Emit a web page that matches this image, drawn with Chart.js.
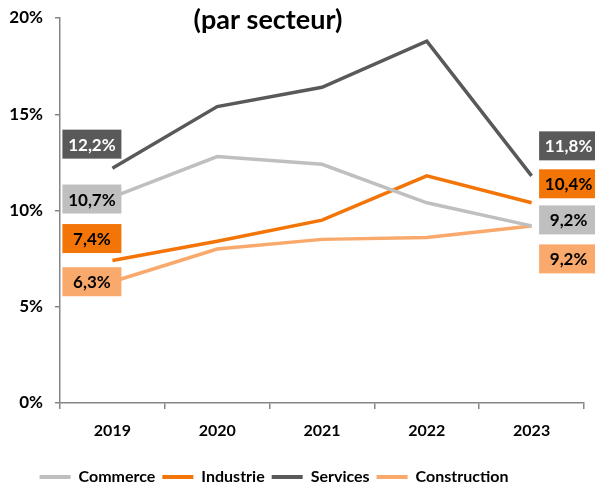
<!DOCTYPE html>
<html><head><meta charset="utf-8">
<script src="https://cdn.jsdelivr.net/npm/chart.js@4.4.0/dist/chart.umd.min.js"></script>
<style>html,body{margin:0;padding:0;background:#fff}</style>
</head><body>
<canvas id="c" width="595" height="487"></canvas>
<script>
const categories = ['2019', '2020', '2021', '2022', '2023'];
const seriesNames = ['Commerce', 'Industrie', 'Services', 'Construction'];
const commerce = [10.7, 12.8, 12.4, 10.4, 9.2];
const industrie = [7.4, 8.4, 9.5, 11.8, 10.4];
const services = [12.2, 15.4, 16.4, 18.8, 11.8];
const construction = [6.3, 8.0, 8.5, 8.6, 9.2];
const yTickValues = [0, 5, 10, 15, 20];
const titleText = '(par secteur)';

const colors = ['#BFBFBF', '#F37508', '#595959', '#FAA96C'];
const labelText = ['#000000', '#000000', '#FFFFFF', '#000000'];
// pixel offsets of the end labels relative to their points [dx, dy]
const firstOff = [[-20.5, 2], [-20.5, -22], [-20.5, -24], [-20.5, 0]];
const lastOff = [[37, -6], [37, -19], [37, -30], [37, 33]];

const FONT = 'Lato, "Open Sans", sans-serif';

const fmt = v => v.toFixed(1).replace('.', ',') + '%';

const endLabels = {
  id: 'endLabels',
  afterDatasetsDraw(chart) {
    const ctx = chart.ctx;
    ctx.save();
    ctx.font = '700 17px ' + FONT;
    ctx.textAlign = 'center';
    ctx.textBaseline = 'middle';
    chart.data.datasets.forEach((ds, i) => {
      const pts = chart.getDatasetMeta(i).data;
      [[0, firstOff[i]], [pts.length - 1, lastOff[i]]].forEach(([k, off]) => {
        const p = pts[k];
        const cx = p.x + off[0], cy = p.y + off[1];
        const w = 59, h = 29;
        ctx.fillStyle = colors[i];
        ctx.fillRect(cx - w / 2, cy - h / 2, w, h);
        ctx.fillStyle = labelText[i];
        ctx.fillText(fmt(ds.data[k]), cx, cy + 1);
      });
    });
    ctx.restore();
  }
};

const titlePlugin = {
  id: 'titleText',
  afterDraw(chart) {
    const ctx = chart.ctx;
    ctx.save();
    ctx.font = '700 27px ' + FONT;
    ctx.fillStyle = '#000';
    ctx.textAlign = 'center';
    ctx.textBaseline = 'middle';
    ctx.fillText(titleText, 268, 20);
    ctx.restore();
  }
};

const legendShift = {
  id: 'legendShift',
  afterLayout(chart) {
    chart.legend.left -= 18;
    chart.legend.right -= 18;
    chart.legend.top += 8;
    chart.legend.bottom += 8;
  }
};

const seriesData = [commerce, industrie, services, construction];

new Chart(document.getElementById('c'), {
  type: 'line',
  data: {
    labels: categories,
    datasets: seriesNames.map((n, i) => ({
      label: n,
      data: seriesData[i],
      borderColor: colors[i],
      backgroundColor: colors[i],
      borderWidth: 3.5,
      pointRadius: 0,
      tension: 0,
      fill: false
    }))
  },
  options: {
    responsive: false,
    devicePixelRatio: 1,
    animation: false,
    layout: { padding: { top: 18, right: 11, left: 0, bottom: 0 } },
    plugins: {
      title: { display: false },
      tooltip: { enabled: false },
      legend: {
        position: 'bottom',
        labels: {
          boxWidth: 31,
          boxHeight: 4,
          padding: 7,
          color: '#000',
          font: { family: FONT, size: 16, weight: '700' },
          generateLabels(chart) {
            const items = Chart.defaults.plugins.legend.labels.generateLabels(chart);
            items.forEach(it => { it.lineWidth = 0; });
            return items;
          }
        }
      }
    },
    scales: {
      x: {
        offset: true,
        afterFit(s) { s.height = 51; s.paddingLeft = 0; s.paddingRight = 0; },
        border: { color: '#868686', width: 1.5 },
        grid: { display: true, drawOnChartArea: false, offset: true, tickLength: 6, color: '#868686', lineWidth: 1.5 },
        ticks: { color: '#000', padding: 12, font: { family: FONT, size: 16, weight: '700' } }
      },
      y: {
        min: 0, max: 20,
        afterFit(s) { s.width = 60; s.paddingTop = 0; s.paddingBottom = 0; },
        afterBuildTicks(s) { s.ticks = yTickValues.map(v => ({ value: v })); },
        border: { color: '#868686', width: 1.5 },
        grid: { display: true, drawOnChartArea: false, tickLength: 5, color: '#868686', lineWidth: 1.5 },
        ticks: { color: '#000', padding: 12, font: { family: FONT, size: 17, weight: '700' }, callback: v => v + '%' }
      }
    }
  },
  plugins: [endLabels, titlePlugin, legendShift]
});
</script>
</body></html>
